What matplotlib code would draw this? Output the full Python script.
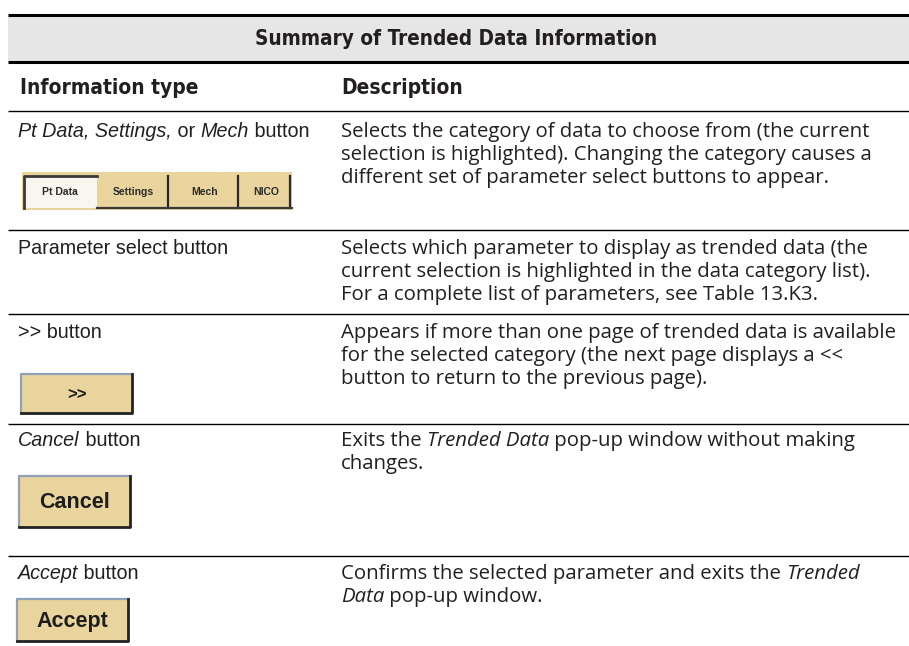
import matplotlib
matplotlib.use("Agg")
import matplotlib.pyplot as plt
from matplotlib import font_manager as fm
from matplotlib.patches import Rectangle

title = "Summary of Trended Data Information"
headers = ["Information type", "Description"]

# left column, as runs of (text, italic)
info_types = [
    [("Pt Data, Settings,", True), (" or ", False), ("Mech", True), (" button", False)],
    [("Parameter select button", False)],
    [(">> button", False)],
    [("Cancel", True), (" button", False)],
    [("Accept", True), (" button", False)],
]

# description lines, each a list of runs
descriptions = [
    [[("Selects the category of data to choose from (the current", False)],
     [("selection is highlighted). Changing the category causes a", False)],
     [("different set of parameter select buttons to appear.", False)]],
    [[("Selects which parameter to display as trended data (the", False)],
     [("current selection is highlighted in the data category list).", False)],
     [("For a complete list of parameters, see Table 13.K3.", False)]],
    [[("Appears if more than one page of trended data is available", False)],
     [("for the selected category (the next page displays a <<", False)],
     [("button to return to the previous page).", False)]],
    [[("Exits the ", False), ("Trended Data", True), (" pop-up window without making", False)],
     [("changes.", False)]],
    [[("Confirms the selected parameter and exits the ", False), ("Trended", True)],
     [("Data", True), (" pop-up window.", False)]],
]

tab_labels = ["Pt Data", "Settings", "Mech", "NICO"]
button_labels = [">>", "Cancel", "Accept"]

W, H = 909, 646
TXT = "#231f20"
TAN = "#e8d49c"

fig = plt.figure(figsize=(W / 100, H / 100), dpi=100)
ax = fig.add_axes([0, 0, 1, 1])
ax.set_xlim(0, W)
ax.set_ylim(H, 0)
ax.axis("off")
renderer = fig.canvas.get_renderer()

names = {f.name for f in fm.fontManager.ttflist}
body = ["Liberation Sans", "DejaVu Sans"]
desc_font = ["Open Sans", "DejaVu Sans"] if "Open Sans" in names else ["DejaVu Sans"]
# bold condensed face for the headings, if one is around
if "Liberation Sans Narrow" in names:
    head_kw = dict(family=["Liberation Sans Narrow", "DejaVu Sans"], weight="bold")
elif any(f.name == "DejaVu Sans" and f.stretch == "condensed" for f in fm.fontManager.ttflist):
    head_kw = dict(family="DejaVu Sans", stretch="condensed", weight="bold")
else:
    head_kw = dict(family=body, weight="bold")


def text_width(s, **kw):
    a = ax.text(0, 0, "|" + s + "|", **kw)
    b = ax.text(0, 0, "||", **kw)
    w = a.get_window_extent(renderer).width - b.get_window_extent(renderer).width
    a.remove()
    b.remove()
    return w


def fit_size(s, target, **kw):
    return 10 * target / text_width(s, fontsize=10, **kw)


def draw_runs(x, y, runs, size, family):
    for s, it in runs:
        kw = dict(fontsize=size, family=family, fontstyle="italic" if it else "normal")
        ax.text(x, y, s, va="baseline", ha="left", color=TXT, **kw)
        x += text_width(s, **kw)


X_LEFT, X_DESC = 18, 341
title_size = min(fit_size(title, 400, **head_kw), 15)
head_size = min(fit_size(headers[0], 182, **head_kw), 15)
left_size = fit_size("Parameter", 93, family=body)
desc_size = min(fit_size(descriptions[0][0][0][0], 546, family=desc_font),
                fit_size(descriptions[2][0][0][0], 558, family=desc_font))

# title band
ax.add_patch(Rectangle((8, 15), W - 8, 47, fc="#e6e6e6", ec="none"))
ax.plot([8, W], [15, 15], color="black", lw=2.2, solid_capstyle="butt")
ax.plot([8, W], [62, 62], color="black", lw=2.2, solid_capstyle="butt")
ax.text(456, 45, title, fontsize=title_size, ha="center", va="baseline", color=TXT, **head_kw)

# column headers
ax.text(X_LEFT + 2, 94, headers[0], fontsize=head_size, va="baseline", color=TXT, **head_kw)
ax.text(X_DESC, 94, headers[1], fontsize=head_size, va="baseline", color=TXT, **head_kw)

rules = [111, 230, 314, 424, 556]
baselines = [137, 254, 338, 446, 579]
for r in rules:
    ax.plot([8, W], [r, r], color="black", lw=1.0, solid_capstyle="butt")

for i in range(len(info_types)):
    draw_runs(X_LEFT, baselines[i], info_types[i], left_size, body)
    for j, line in enumerate(descriptions[i]):
        draw_runs(X_DESC, baselines[i] + 23 * j, line, desc_size, desc_font)

# tab strip (row 1)
ax.add_patch(Rectangle((22, 172), 270, 38, fc=TAN, ec="none"))
tab_x = [22, 97, 170, 240, 292]
ax.add_patch(Rectangle((24, 176), 73, 32, fc="#f8f6ef", ec="none"))
ax.plot([24, 24, 97], [208, 176, 176], color="#3a3a3a", lw=2)
for k in range(1, 4):
    ax.plot([tab_x[k + 1] - 2, tab_x[k + 1] - 2], [176, 208], color="#2a2a2a", lw=1.6)
ax.plot([97, 292], [208, 208], color="#3a3a3a", lw=1.6)
for k, lab in enumerate(tab_labels):
    ax.text((tab_x[k] + tab_x[k + 1]) / 2, 192, lab, fontsize=7.5, family=body,
            weight="bold", ha="center", va="center", color="#2b2b2b")

# simple push buttons
btn_boxes = [(21, 374, 111, 39), (19, 476, 111, 51), (17, 599, 111, 42)]
btn_sizes = [12, 15.5, 15.5]
for (bx, by, bw, bh), lab, fs in zip(btn_boxes, button_labels, btn_sizes):
    ax.add_patch(Rectangle((bx, by), bw, bh, fc=TAN, ec="none"))
    ax.plot([bx, bx, bx + bw], [by + bh, by, by], color="#8fa0b8", lw=1.6)
    ax.plot([bx, bx + bw, bx + bw], [by + bh, by + bh, by], color="#222222", lw=2)
    ax.text(bx + bw / 2, by + bh / 2 + 1, lab, fontsize=fs, family=body, weight="bold",
            ha="center", va="center", color="#1e1e1e")

fig.savefig("out.png", dpi=100)
plt.close(fig)
